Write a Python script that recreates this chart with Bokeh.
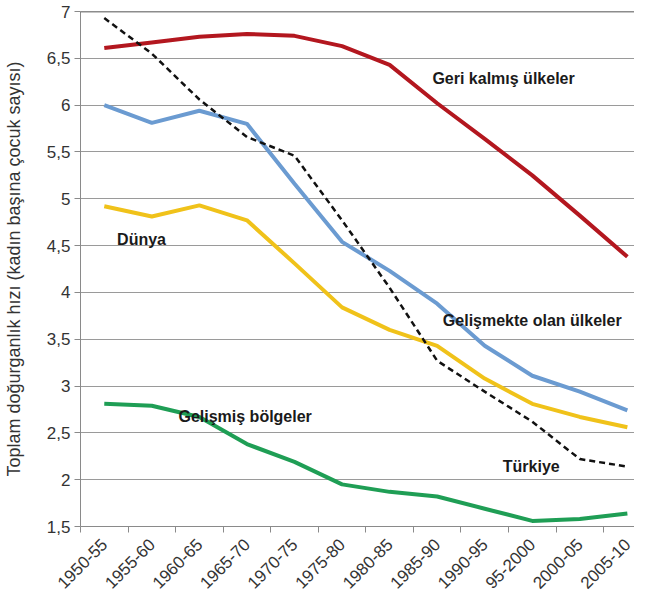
import numpy as np
from bokeh.plotting import figure
from bokeh.models import Range1d, FixedTicker, CustomJSTickFormatter, Span, Label, ColumnDataSource
from bokeh.embed import file_html
from bokeh.resources import INLINE

periods = ["1950-55", "1955-60", "1960-65", "1965-70", "1970-75", "1975-80",
           "1980-85", "1985-90", "1990-95", "95-2000", "2000-05", "2005-10"]
geri_kalmis = [6.61, 6.67, 6.73, 6.76, 6.74, 6.63, 6.43, 6.02, 5.64, 5.25, 4.82, 4.38]
gelismekte = [6.00, 5.81, 5.94, 5.80, 5.16, 4.54, 4.23, 3.88, 3.43, 3.11, 2.94, 2.74]
dunya = [4.92, 4.81, 4.93, 4.77, 4.31, 3.84, 3.60, 3.43, 3.08, 2.81, 2.67, 2.56]
gelismis = [2.81, 2.79, 2.67, 2.38, 2.19, 1.95, 1.87, 1.82, 1.69, 1.56, 1.58, 1.64]
turkiye = [6.93, 6.55, 6.06, 5.66, 5.46, 4.77, 4.05, 3.27, 2.94, 2.62, 2.22, 2.14]
y_ticks = [1.5, 2, 2.5, 3, 3.5, 4, 4.5, 5, 5.5, 6, 6.5, 7]

FONT = "Liberation Sans"
x = np.arange(len(periods)) + 0.5

p = figure(width=634, height=599, output_backend="svg", toolbar_location=None,
           x_range=Range1d(0, 11.65), y_range=Range1d(1.5, 7),
           min_border_left=76, min_border_top=11, min_border_right=0, min_border_bottom=73)
p.outline_line_color = None
p.background_fill_color = "white"

# axes
p.xgrid.visible = False
p.ygrid.ticker = FixedTicker(ticks=y_ticks)
p.ygrid.grid_line_color = "#9a9a9a"
p.ygrid.grid_line_width = 1

p.yaxis.ticker = FixedTicker(ticks=y_ticks)
p.yaxis.formatter = CustomJSTickFormatter(code="return tick.toString().replace('.', ',');")
p.yaxis.axis_line_color = "#8a8a8a"
p.yaxis.major_tick_line_color = "#8a8a8a"
p.yaxis.major_tick_out = 6
p.yaxis.major_tick_in = 0
p.yaxis.minor_tick_line_color = None
p.yaxis.major_label_text_font = FONT
p.yaxis.major_label_text_font_size = "17px"
p.yaxis.major_label_text_color = "#333333"
p.yaxis.major_label_standoff = 4
p.yaxis.axis_label = "Toplam doğurganlık hızı (kadın başına çocuk sayısı)"
p.yaxis.axis_label_text_font = FONT
p.yaxis.axis_label_text_font_style = "normal"
p.yaxis.axis_label_text_font_size = "18px"
p.yaxis.axis_label_text_color = "#333333"
p.yaxis.axis_label_standoff = 20

p.xaxis.ticker = FixedTicker(ticks=list(x), minor_ticks=list(range(len(periods) + 1)))
p.xaxis.formatter = CustomJSTickFormatter(args=dict(labels=periods),
                                          code="return labels[Math.floor(tick)];")
p.xaxis.axis_line_color = "#8a8a8a"
p.xaxis.major_tick_out = 0
p.xaxis.major_tick_in = 0
p.xaxis.minor_tick_line_color = "#8a8a8a"
p.xaxis.minor_tick_out = 6
p.xaxis.minor_tick_in = 0
p.xaxis.major_label_orientation = np.pi / 4
p.xaxis.major_label_text_font = FONT
p.xaxis.major_label_text_font_size = "17px"
p.xaxis.major_label_text_color = "#333333"
p.xaxis.major_label_standoff = 9

p.add_layout(Span(location=7, dimension="width", line_color="#1a1a1a", line_width=1.5))

src = ColumnDataSource(dict(x=x, geri=geri_kalmis, gelismekte=gelismekte, dunya=dunya,
                            gelismis=gelismis, turkiye=turkiye))
p.line("x", "geri", source=src, line_color="#b3171f", line_width=4)
p.line("x", "gelismekte", source=src, line_color="#6b9bd1", line_width=4)
p.line("x", "dunya", source=src, line_color="#f0c21a", line_width=4)
p.line("x", "gelismis", source=src, line_color="#1f9e55", line_width=4)
p.line("x", "turkiye", source=src, line_color="#111111", line_width=2.5, line_dash="6 4")

labels = [
    ("Geri kalmış ülkeler", 7.40, 6.28),
    ("Dünya", 0.77, 4.57),
    ("Gelişmekte olan ülkeler", 7.62, 3.70),
    ("Gelişmiş bölgeler", 2.06, 2.67),
    ("Türkiye", 8.88, 2.14),
]
for txt, lx, ly in labels:
    p.add_layout(Label(x=lx, y=ly, text=txt, text_font=FONT, text_font_style="bold",
                       text_font_size="16px", text_color="#1a1a1a", text_baseline="middle"))

open("out.html", "w").write(file_html(p, INLINE))
